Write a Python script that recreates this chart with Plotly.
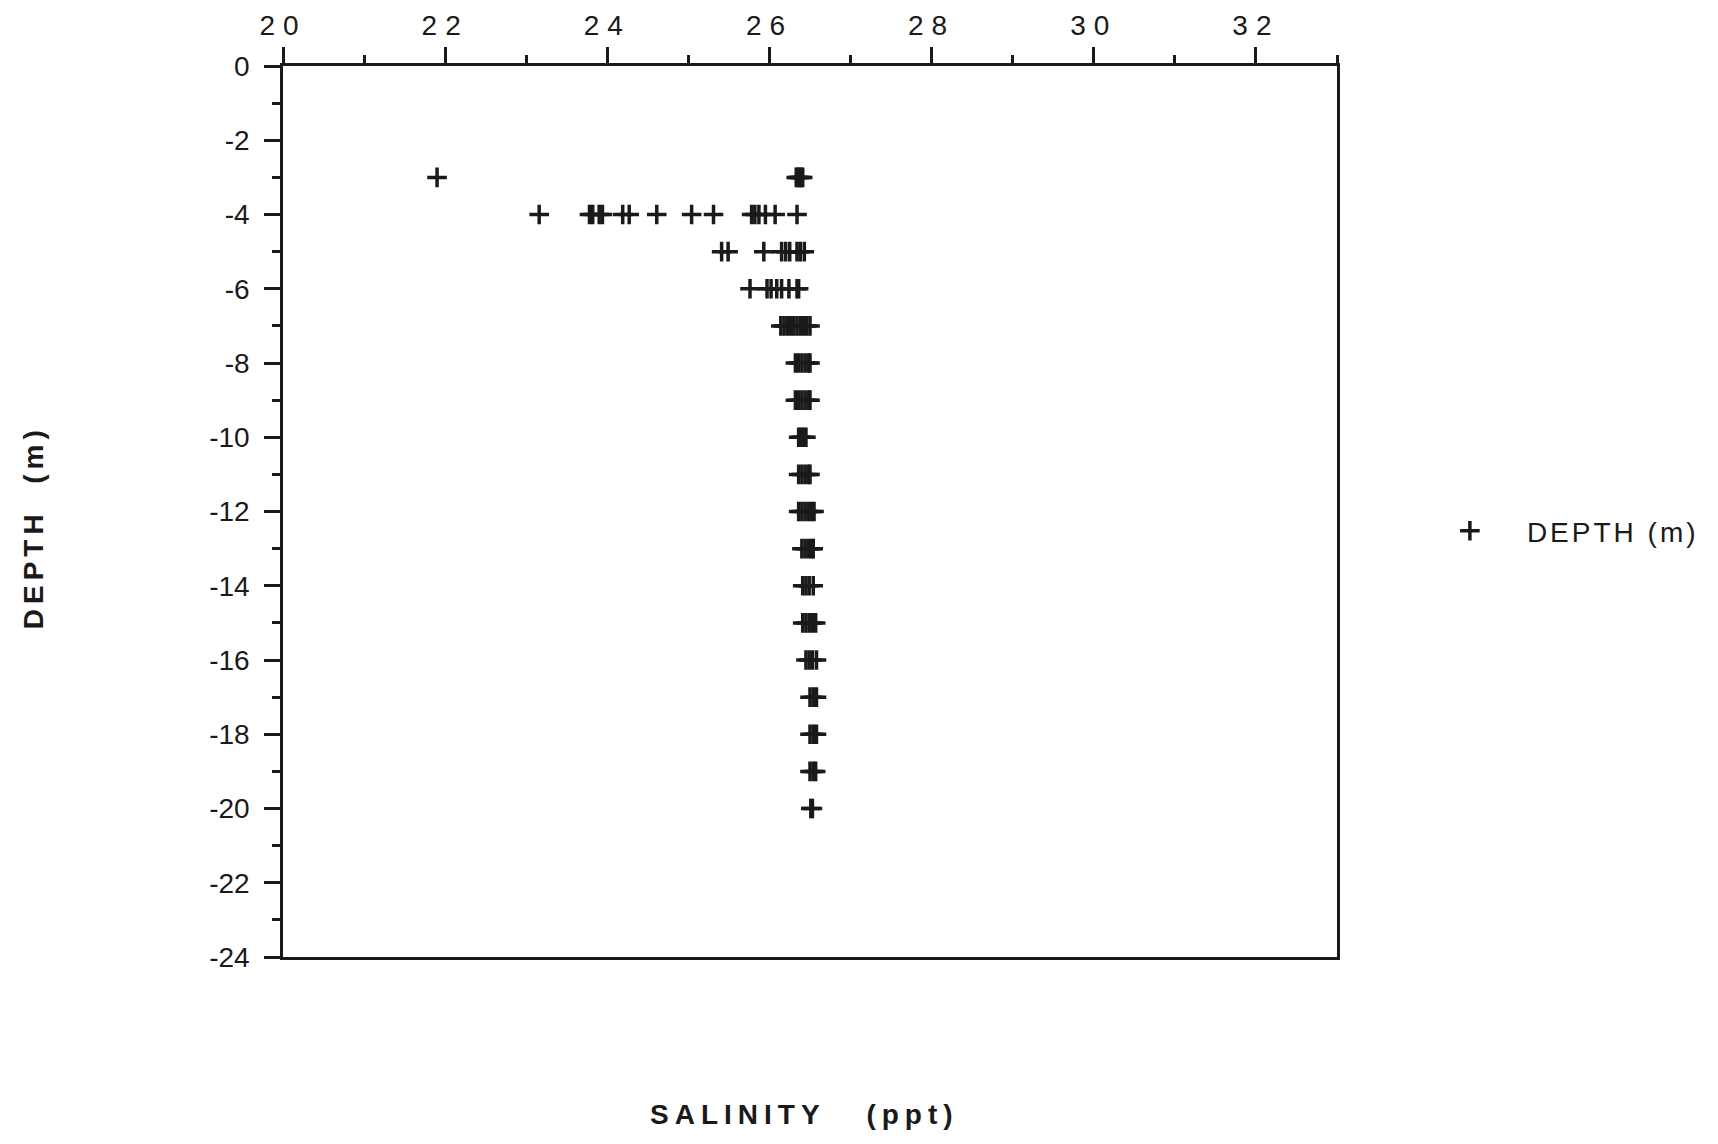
import plotly.graph_objects as go

# Data (depth rows in m, salinity in ppt)
depth_m = (
    [-3] * 6
    + [-4] * 16
    + [-5] * 9
    + [-6] * 8
    + [-7] * 10
    + [-8] * 6
    + [-9] * 6
    + [-10] * 4
    + [-11] * 5
    + [-12] * 6
    + [-13] * 5
    + [-14] * 4
    + [-15] * 5
    + [-16] * 4
    + [-17] * 3
    + [-18] * 3
    + [-19] * 3
    + [-20] * 2
)

salinity_ppt = (
    [21.90, 26.33, 26.35, 26.37, 26.39, 26.41]
    + [23.16, 23.78, 23.82, 23.90, 23.94, 24.19, 24.27, 24.61, 25.04, 25.31,
       25.78, 25.82, 25.87, 25.95, 26.07, 26.34]
    + [25.41, 25.49, 25.93, 26.15, 26.20, 26.25, 26.34, 26.38, 26.43]
    + [25.76, 25.97, 26.02, 26.09, 26.15, 26.24, 26.34, 26.36]
    + [26.14, 26.18, 26.22, 26.26, 26.30, 26.34, 26.38, 26.42, 26.46, 26.50]
    + [26.32, 26.36, 26.40, 26.44, 26.48, 26.50]
    + [26.32, 26.36, 26.40, 26.44, 26.48, 26.50]
    + [26.36, 26.39, 26.42, 26.45]
    + [26.36, 26.40, 26.44, 26.48, 26.50]
    + [26.36, 26.40, 26.44, 26.48, 26.52, 26.55]
    + [26.40, 26.44, 26.48, 26.52, 26.54]
    + [26.41, 26.45, 26.49, 26.54]
    + [26.41, 26.45, 26.49, 26.53, 26.57]
    + [26.45, 26.49, 26.53, 26.58]
    + [26.50, 26.54, 26.58]
    + [26.50, 26.54, 26.58]
    + [26.50, 26.54, 26.57]
    + [26.51, 26.53]
)

x_tick_vals = [20, 22, 24, 26, 28, 30, 32]
y_tick_vals = [0, -2, -4, -6, -8, -10, -12, -14, -16, -18, -20, -22, -24]

FONT = "Liberation Sans, Arial, Helvetica, sans-serif"
INK = "#1a1a1a"


def spaced(text, px):
    return f'<span style="letter-spacing:{px}px">{text}</span>'


fig = go.Figure()
fig.add_trace(go.Scatter(
    x=salinity_ppt,
    y=depth_m,
    mode="markers",
    name=spaced("DEPTH (m)", 3),
    marker=dict(symbol="cross-thin", size=14, color=INK,
                line=dict(width=3.5, color=INK)),
    showlegend=True,
))

axis_common = dict(
    showline=True, linecolor=INK, linewidth=2.5, mirror=True,
    ticks="outside", tickcolor=INK, tickwidth=2.5, ticklen=16,
    showgrid=False, zeroline=False, automargin=False,
    tickfont=dict(family=FONT, size=28, color=INK),
    minor=dict(ticks="outside", ticklen=8, tickwidth=2.5, tickcolor=INK, dtick=1,
               showgrid=False),
)

fig.update_xaxes(
    **axis_common,
    side="top",
    range=[20, 33],
    tickvals=x_tick_vals,
    ticktext=[spaced(str(v), 8) for v in x_tick_vals],
    ticklabelstandoff=1,
)
fig.update_yaxes(
    **axis_common,
    range=[-24, 0],
    tickvals=y_tick_vals,
    ticktext=[str(v) for v in y_tick_vals],
    ticklabelstandoff=9,
)

fig.add_annotation(
    text="<b>" + spaced("SALINITY   (ppt)", 6) + "</b>",
    xref="paper", yref="paper", x=0.495, y=-0.177,
    xanchor="center", yanchor="middle", showarrow=False,
    font=dict(family=FONT, size=28, color=INK),
)
fig.add_annotation(
    text="<b>" + spaced("DEPTH  (m)", 5) + "</b>",
    xref="paper", yref="paper", x=-0.237, y=0.4826,
    xanchor="center", yanchor="middle", showarrow=False, textangle=-90,
    font=dict(family=FONT, size=28, color=INK),
)

fig.update_layout(
    width=1718, height=1144,
    margin=dict(l=275, r=389, t=58, b=195, autoexpand=False),
    paper_bgcolor="white", plot_bgcolor="white",
    legend=dict(x=1.072, y=0.478, xanchor="left", yanchor="middle",
                font=dict(family=FONT, size=28, color=INK),
                itemwidth=104, bgcolor="rgba(0,0,0,0)"),
)

fig.write_html("out.html")
